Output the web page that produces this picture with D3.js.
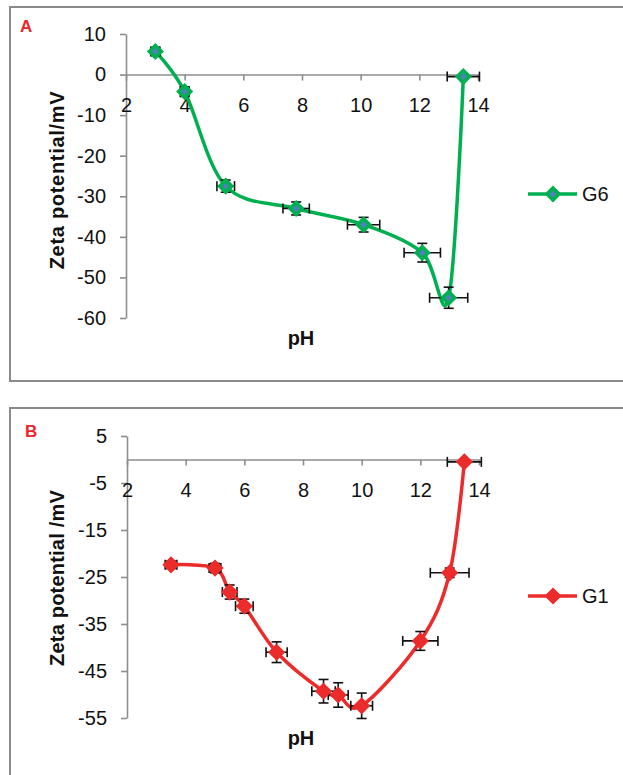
<!DOCTYPE html>
<html>
<head>
<meta charset="utf-8">
<script src="https://cdn.jsdelivr.net/npm/d3@7"></script>
<style>
  body { margin: 0; background: #fff; }
  svg { display: block; font-family: "Liberation Sans", Arial, sans-serif; }
</style>
</head>
<body>
<div id="chart"></div>
<script>
// panel A, series G6
var phG6 = [3.0, 4.0, 5.4, 7.8, 10.1, 12.1, 13.0, 13.5];
var zetaG6 = [5.7, -4.2, -27.5, -33.0, -37.0, -43.9, -55.0, -0.5];
var phErrG6 = [0.15, 0.15, 0.3, 0.45, 0.55, 0.62, 0.65, 0.55];
var zetaErrG6 = [1.0, 1.2, 1.5, 1.6, 1.8, 2.3, 2.6, 0.2];

// panel B, series G1
var phG1 = [3.5, 5.0, 5.5, 6.0, 7.1, 8.7, 9.2, 10.0, 12.0, 13.0, 13.5];
var zetaG1 = [-22.4, -23.1, -28.2, -31.2, -41.0, -49.3, -50.1, -52.4, -38.6, -24.1, -0.5];
var phErrG1 = [0.2, 0.2, 0.25, 0.3, 0.36, 0.4, 0.34, 0.37, 0.6, 0.66, 0.58];
var zetaErrG1 = [0.8, 1.0, 1.5, 1.5, 2.2, 2.5, 2.6, 2.7, 2.0, 1.0, 0.2];

var xTicks = [2, 4, 6, 8, 10, 12, 14];
var yTicksA = [10, 0, -10, -20, -30, -40, -50, -60];
var yTicksB = [5, -5, -15, -25, -35, -45, -55];

var W = 623, H = 775;
var svg = d3.select("#chart").append("svg").attr("width", W).attr("height", H);

var frameColor = "#8a8a8a";
var axisColor = "#8e8e8e";
var plainNum = function(d) { return String(d); }; // hyphen minus, like the original

function drawPanel(o) {
	var g = svg.append("g");

	// outer frame (runs past the right / bottom edge like the crop)
	g.append("rect")
		.attr("x", 10).attr("y", o.frameTop)
		.attr("width", 700).attr("height", o.frameH)
		.attr("fill", "none")
		.attr("stroke", frameColor)
		.attr("stroke-width", 2);

	g.append("text")
		.attr("x", o.letterX).attr("y", o.letterY)
		.attr("fill", "#e8262b")
		.attr("font-weight", "bold")
		.attr("font-size", 17)
		.text(o.letter);

	var x = d3.scaleLinear().domain([2, 14]).range(o.xRange);
	var y = d3.scaleLinear().domain(o.yDomain).range(o.yRange);

	var yAxis = d3.axisLeft(y).tickValues(o.yTicks).tickFormat(plainNum)
		.tickSize(6).tickSizeOuter(0).tickPadding(14);
	var ya = g.append("g").attr("transform", "translate(" + o.xRange[0] + ",0)").call(yAxis);
	ya.selectAll("path, line").attr("stroke", axisColor).attr("stroke-width", 1.6);
	ya.selectAll("text").attr("font-size", 20).attr("fill", "#111").attr("font-family", null);

	var xAxis = d3.axisBottom(x).tickValues(xTicks).tickFormat(plainNum)
		.tickSize(6).tickSizeOuter(0);
	var xa = g.append("g").attr("transform", "translate(0," + y(0) + ")").call(xAxis);
	xa.selectAll("path, line").attr("stroke", axisColor).attr("stroke-width", 1.6);
	xa.selectAll("text").attr("font-size", 20).attr("fill", "#111")
		.attr("font-family", null).attr("y", 37).attr("dy", null);

	// axis titles
	g.append("text")
		.attr("transform", "translate(64," + o.titleY + ") rotate(-90)")
		.attr("text-anchor", "middle")
		.attr("font-weight", "bold")
		.attr("font-size", 20)
		.attr("letter-spacing", o.titleSpacing)
		.attr("fill", "#111")
		.text(o.yTitle);

	g.append("text")
		.attr("x", 301).attr("y", o.phY)
		.attr("text-anchor", "middle")
		.attr("font-weight", "bold")
		.attr("font-size", 20)
		.attr("fill", "#111")
		.text("pH");

	var pts = o.ph.map(function(p, i) {
		return { x: p, y: o.zeta[i], ex: o.phErr[i], ey: o.zetaErr[i] };
	});

	var line = d3.line()
		.x(function(d) { return x(d.x); })
		.y(function(d) { return y(d.y); })
		.curve(d3.curveCardinal.tension(0));

	g.append("path")
		.datum(pts)
		.attr("d", line)
		.attr("fill", "none")
		.attr("stroke", o.color)
		.attr("stroke-width", 3.5);

	// error bars
	var eb = g.append("g").attr("stroke", "#111").attr("stroke-width", 1.6).attr("fill", "none");
	pts.forEach(function(d) {
		var cx = x(d.x), cy = y(d.y);
		var x0 = x(d.x - d.ex), x1 = x(d.x + d.ex);
		var y0 = y(d.y + d.ey), y1 = y(d.y - d.ey);
		eb.append("line").attr("x1", x0).attr("x2", x1).attr("y1", cy).attr("y2", cy);
		eb.append("line").attr("x1", x0).attr("x2", x0).attr("y1", cy - 5).attr("y2", cy + 5);
		eb.append("line").attr("x1", x1).attr("x2", x1).attr("y1", cy - 5).attr("y2", cy + 5);
		if (d.ey > 0.5) {
			eb.append("line").attr("x1", cx).attr("x2", cx).attr("y1", y0).attr("y2", y1);
			eb.append("line").attr("x1", cx - 5).attr("x2", cx + 5).attr("y1", y0).attr("y2", y0);
			eb.append("line").attr("x1", cx - 5).attr("x2", cx + 5).attr("y1", y1).attr("y2", y1);
		}
	});

	var diamond = function(cx, cy, r) {
		return "M" + cx + "," + (cy - r) + "L" + (cx + r) + "," + cy +
			"L" + cx + "," + (cy + r) + "L" + (cx - r) + "," + cy + "Z";
	};

	g.selectAll(".mk")
		.data(pts)
		.enter().append("path")
		.attr("class", "mk")
		.attr("d", function(d) { return diamond(x(d.x), y(d.y), o.mkR); })
		.attr("fill", o.mkFill)
		.attr("stroke", o.color)
		.attr("stroke-width", o.mkStroke)
		.attr("stroke-linejoin", "miter");

	// legend
	g.append("line")
		.attr("x1", 528).attr("x2", 577)
		.attr("y1", o.legY).attr("y2", o.legY)
		.attr("stroke", o.color).attr("stroke-width", 3.5);
	g.append("path")
		.attr("d", diamond(553, o.legY, o.mkR))
		.attr("fill", o.mkFill)
		.attr("stroke", o.color)
		.attr("stroke-width", o.mkStroke);
	g.append("text")
		.attr("x", 582).attr("y", o.legY + 7)
		.attr("font-size", 20)
		.attr("fill", "#111")
		.text(o.name);
}

drawPanel({
	letter: "A", letterX: 20, letterY: 32,
	frameTop: 7, frameH: 374,
	xRange: [126, 478], yDomain: [-60, 10], yRange: [318, 34],
	yTicks: yTicksA,
	yTitle: "Zeta potential/mV", titleY: 180, titleSpacing: 0.7,
	phY: 345,
	ph: phG6, zeta: zetaG6, phErr: phErrG6, zetaErr: zetaErrG6,
	color: "#00b050", mkFill: "#4f81bd", mkR: 6, mkStroke: 3.6,
	legY: 194, name: "G6"
});

drawPanel({
	letter: "B", letterX: 25, letterY: 437,
	frameTop: 408, frameH: 500,
	xRange: [127, 479], yDomain: [-55, 5], yRange: [718, 436],
	yTicks: yTicksB,
	yTitle: "Zeta potential /mV", titleY: 578, titleSpacing: 0.2,
	phY: 745,
	ph: phG1, zeta: zetaG1, phErr: phErrG1, zetaErr: zetaErrG1,
	color: "#ec2b2b", mkFill: "#ec2b2b", mkR: 6.5, mkStroke: 3,
	legY: 596, name: "G1"
});
</script>
</body>
</html>
